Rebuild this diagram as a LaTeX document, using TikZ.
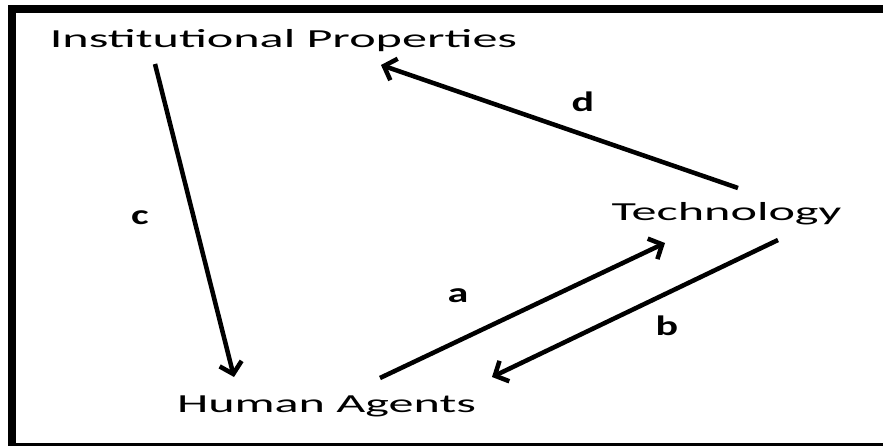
\documentclass[tikz,border=0pt]{standalone}
\usepackage{fontspec}
\setmainfont{Carlito}
\usetikzlibrary{arrows.meta}
\begin{document}
\begin{tikzpicture}[x=0.75pt,y=-0.75pt,
  term/.style={inner sep=0pt,anchor=base,font=\fontsize{19.5}{20}\selectfont},
  lab/.style={inner sep=0pt,font=\fontsize{21}{22}\selectfont\bfseries},
  conn/.style={line width=3.4pt,-{Straight Barb[length=8pt,width=17pt]}}]
\useasboundingbox (0,0) rectangle (883,446);
\fill[white] (0,0) rectangle (883,446);
% frame
\fill[black] (8,5) rectangle (16,446);
\fill[black] (8,5) rectangle (883,13);
\fill[black] (8,443) rectangle (883,446);
% terms
\node[term] (ip) at (283.5,47) {\scalebox{1.93}[1]{Institutional Properties}};
\node[term] (tech) at (726.5,220) {\scalebox{1.93}[1]{Technology}};
\node[term] (ha) at (326.5,412) {\scalebox{1.93}[1]{Human Agents}};
% labels
\node[lab] (lc) at (140,218) {\scalebox{1.5}[1]{c}};
\node[lab] (ld) at (583,102) {\scalebox{1.5}[1]{d}};
\node[lab] (la) at (458,296) {\scalebox{1.5}[1]{a}};
\node[lab] (lb) at (667,326) {\scalebox{1.5}[1]{b}};
% connector ends
\coordinate (c1) at (155,64);
\coordinate (c2) at (234,377);
\coordinate (d1) at (738,188);
\coordinate (d2) at (381,65);
\coordinate (a1) at (380,378);
\coordinate (a2) at (665,243);
\coordinate (b1) at (778,240);
\coordinate (b2) at (492,377);
\draw[conn] (c1) -- (c2);
\draw[conn] (d1) -- (d2);
\draw[conn] (a1) -- (a2);
\draw[conn] (b1) -- (b2);
\end{tikzpicture}
\end{document}
